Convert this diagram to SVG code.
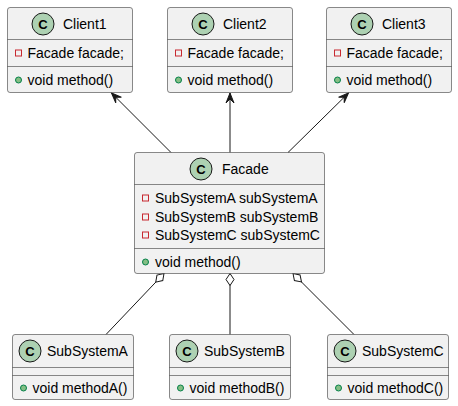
<svg xmlns="http://www.w3.org/2000/svg" width="458" height="406" viewBox="0 0 458 406">
<defs>
<style>
.box{fill:#F1F1F1;stroke:#181818;stroke-width:0.5}
.div{stroke:#181818;stroke-width:0.5}
.ci{fill:#ADD1B2;stroke:#181818;stroke-width:1}
.cl{font-family:"Liberation Sans",Arial,sans-serif;font-size:13px;font-weight:bold;fill:#000;text-anchor:middle}
.nm{font-family:"Liberation Sans",Arial,sans-serif;font-size:14px;fill:#000}
.tx{font-family:"Liberation Sans",Arial,sans-serif;font-size:14px;fill:#000}
.pri{fill:none;stroke:#C82930;stroke-width:1}
.pub{fill:#84BE84;stroke:#038048;stroke-width:1}
.ln{stroke:#181818;stroke-width:1;fill:none}
</style>
<marker id="arr" markerUnits="userSpaceOnUse" markerWidth="14" markerHeight="12" viewBox="-12 -6 14 12" refX="0" refY="0" orient="auto">
<path d="M0,0 L-10,-4 L-6,0 L-10,4 Z" fill="#181818" stroke="#181818" stroke-width="1"/>
</marker>
<marker id="dia" markerUnits="userSpaceOnUse" markerWidth="16" markerHeight="12" viewBox="-1 -6 16 12" refX="0" refY="0" orient="auto">
<path d="M0,0 L6,-4 L12,0 L6,4 Z" fill="#FFFFFF" stroke="#181818" stroke-width="1"/>
</marker>
</defs>
<rect width="458" height="406" fill="#FFFFFF"/>

<g id="connectors">
<line class="ln" x1="171" y1="152.5" x2="111.5" y2="93" marker-end="url(#arr)"/>
<line class="ln" x1="230" y1="152.5" x2="230" y2="93" marker-end="url(#arr)"/>
<line class="ln" x1="288" y1="152.5" x2="348.5" y2="93" marker-end="url(#arr)"/>
<line class="ln" x1="164" y1="273.5" x2="106" y2="334.5" marker-start="url(#dia)"/>
<line class="ln" x1="230" y1="273.5" x2="230" y2="334.5" marker-start="url(#dia)"/>
<line class="ln" x1="293" y1="273.5" x2="354" y2="334.5" marker-start="url(#dia)"/>
</g>

<g id="Client1">
<rect class="box" x="7.5" y="7.5" width="125" height="85" rx="2.5"/>
<circle class="ci" cx="43" cy="24" r="11"/>
<text class="cl" x="43" y="28.5">C</text>
<text class="nm" x="63" y="29">Client1</text>
<line class="div" x1="7.5" y1="39.5" x2="132.5" y2="39.5"/>
<rect class="pri" x="15.5" y="50" width="6" height="6"/>
<text class="tx" x="27.5" y="58">Facade facade;</text>
<line class="div" x1="7.5" y1="66.5" x2="132.5" y2="66.5"/>
<circle class="pub" cx="18.5" cy="80" r="3"/>
<text class="tx" x="27.5" y="85">void method()</text>
</g>

<g id="Client2">
<rect class="box" x="167.5" y="7.5" width="125" height="85" rx="2.5"/>
<circle class="ci" cx="203" cy="24" r="11"/>
<text class="cl" x="203" y="28.5">C</text>
<text class="nm" x="223" y="29">Client2</text>
<line class="div" x1="167.5" y1="39.5" x2="292.5" y2="39.5"/>
<rect class="pri" x="175.5" y="50" width="6" height="6"/>
<text class="tx" x="187.5" y="58">Facade facade;</text>
<line class="div" x1="167.5" y1="66.5" x2="292.5" y2="66.5"/>
<circle class="pub" cx="178.5" cy="80" r="3"/>
<text class="tx" x="187.5" y="85">void method()</text>
</g>

<g id="Client3">
<rect class="box" x="326.5" y="7.5" width="125" height="85" rx="2.5"/>
<circle class="ci" cx="362" cy="24" r="11"/>
<text class="cl" x="362" y="28.5">C</text>
<text class="nm" x="382" y="29">Client3</text>
<line class="div" x1="326.5" y1="39.5" x2="451.5" y2="39.5"/>
<rect class="pri" x="334.5" y="50" width="6" height="6"/>
<text class="tx" x="346.5" y="58">Facade facade;</text>
<line class="div" x1="326.5" y1="66.5" x2="451.5" y2="66.5"/>
<circle class="pub" cx="337.5" cy="80" r="3"/>
<text class="tx" x="346.5" y="85">void method()</text>
</g>

<g id="Facade">
<rect class="box" x="134.5" y="152.5" width="190" height="121" rx="2.5"/>
<circle class="ci" cx="201" cy="169" r="11"/>
<text class="cl" x="201" y="173.5">C</text>
<text class="nm" x="222" y="174">Facade</text>
<line class="div" x1="134.5" y1="184.5" x2="324.5" y2="184.5"/>
<rect class="pri" x="142.5" y="195" width="6" height="6"/>
<text class="tx" x="155" y="203">SubSystemA subSystemA</text>
<rect class="pri" x="142.5" y="214" width="6" height="6"/>
<text class="tx" x="155" y="222">SubSystemB subSystemB</text>
<rect class="pri" x="142.5" y="232" width="6" height="6"/>
<text class="tx" x="155" y="240">SubSystemC subSystemC</text>
<line class="div" x1="134.5" y1="248.5" x2="324.5" y2="248.5"/>
<circle class="pub" cx="145.5" cy="262" r="3"/>
<text class="tx" x="155" y="267">void method()</text>
</g>

<g id="SubSystemA">
<rect class="box" x="12.5" y="334.5" width="121" height="65" rx="2.5"/>
<circle class="ci" cx="30" cy="351" r="11"/>
<text class="cl" x="30" y="355.5">C</text>
<text class="nm" x="47" y="356">SubSystemA</text>
<line class="div" x1="12.5" y1="367.5" x2="133.5" y2="367.5"/>
<line class="div" x1="12.5" y1="375.5" x2="133.5" y2="375.5"/>
<circle class="pub" cx="23.5" cy="388" r="3"/>
<text class="tx" x="32.5" y="393">void methodA()</text>
</g>

<g id="SubSystemB">
<rect class="box" x="169.5" y="334.5" width="121" height="65" rx="2.5"/>
<circle class="ci" cx="187" cy="351" r="11"/>
<text class="cl" x="187" y="355.5">C</text>
<text class="nm" x="204" y="356">SubSystemB</text>
<line class="div" x1="169.5" y1="367.5" x2="290.5" y2="367.5"/>
<line class="div" x1="169.5" y1="375.5" x2="290.5" y2="375.5"/>
<circle class="pub" cx="180.5" cy="388" r="3"/>
<text class="tx" x="189.5" y="393">void methodB()</text>
</g>

<g id="SubSystemC">
<rect class="box" x="327.5" y="334.5" width="121" height="65" rx="2.5"/>
<circle class="ci" cx="345" cy="351" r="11"/>
<text class="cl" x="345" y="355.5">C</text>
<text class="nm" x="362" y="356">SubSystemC</text>
<line class="div" x1="327.5" y1="367.5" x2="448.5" y2="367.5"/>
<line class="div" x1="327.5" y1="375.5" x2="448.5" y2="375.5"/>
<circle class="pub" cx="338.5" cy="388" r="3"/>
<text class="tx" x="347.5" y="393">void methodC()</text>
</g>
</svg>
